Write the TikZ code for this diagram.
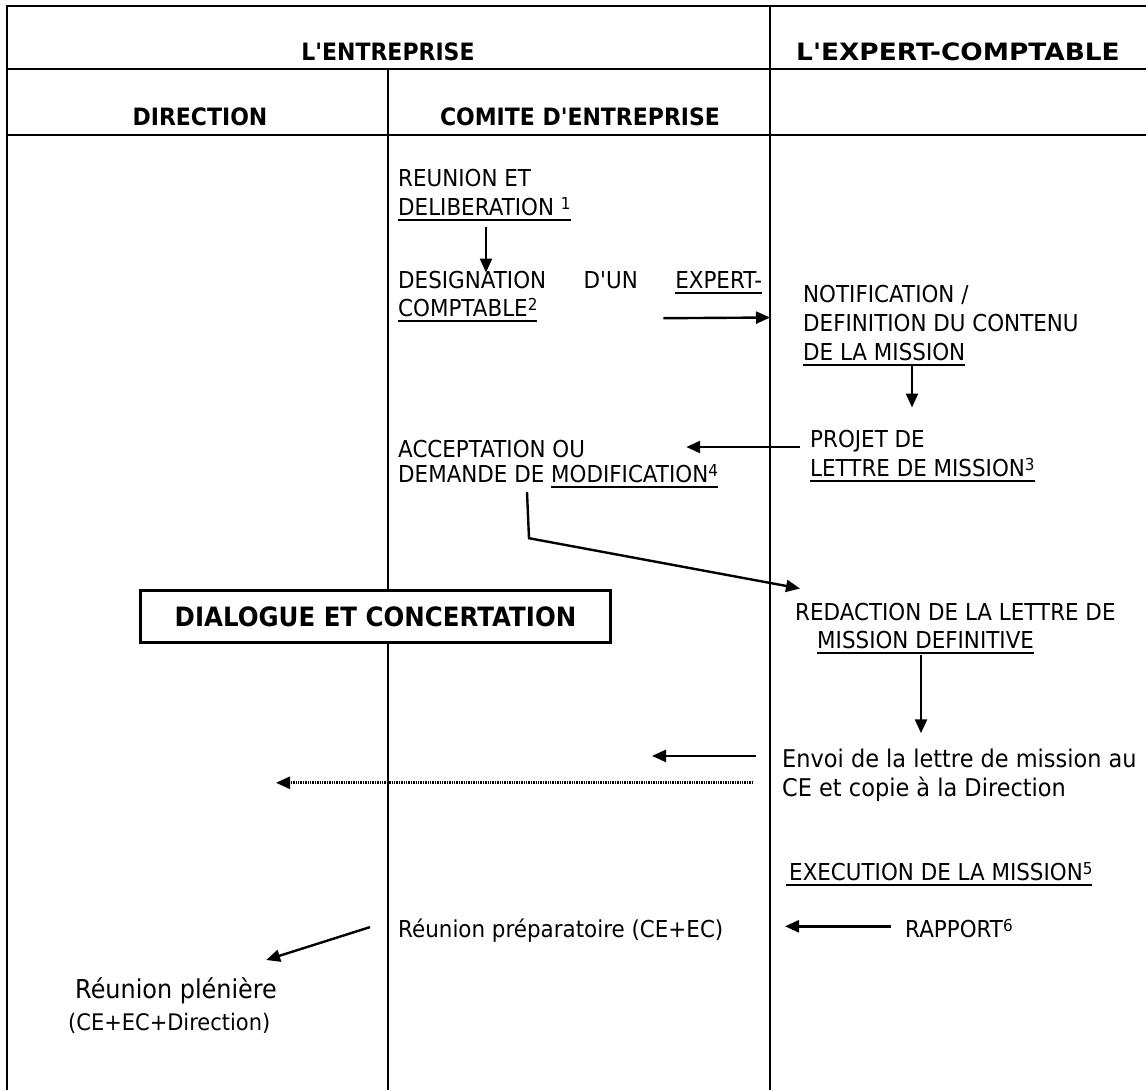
\documentclass[tikz,border=0pt]{standalone}
\usepackage{fontspec}
\newfontfamily\dvs{DejaVu Sans}[FakeStretch=0.92]
\usetikzlibrary{arrows.meta}
\newcommand\ulx[1]{\leavevmode\setbox0\hbox{#1}\rlap{\rule[-6pt]{\wd0}{1.8pt}}\box0}
\newcommand\sups[1]{\raisebox{5.5pt}{\fontsize{16.5}{16.5}\selectfont #1}}
\begin{document}
\begin{tikzpicture}[x=1pt,y=-1pt,
  tx/.style={inner sep=0pt, anchor=base west, font=\dvs\fontsize{23.3}{26}\selectfont},
  txs/.style={inner sep=0pt, anchor=base west, font=\dvs\fontsize{#1}{#1}\selectfont},
  hd/.style={inner sep=0pt, anchor=base, font=\dvs\bfseries\fontsize{23.9}{26}\selectfont},
  arr/.style={line width=2.4pt, -{Triangle[length=14pt,width=12pt]}},
  dotarr/.style={line width=2.6pt, dash pattern=on 1.4pt off 1pt, -{Triangle[length=14pt,width=12pt]}},
  frame/.style={line width=2.5pt},
  rowline/.style={line width=2pt},
  thincol/.style={line width=1.4pt},
  thickcol/.style={line width=2.2pt}]
\useasboundingbox (0,0) rectangle (1146,1090);
% table frame
\draw[frame] (1146,6) -- (7,6) -- (7,1090);
\draw[rowline] (7,69) -- (1146,69);
\draw[rowline] (7,135) -- (1146,135);
\draw[thincol] (388,69) -- (388,1090);
\draw[thickcol] (770,6) -- (770,1090);
% headers
\node[hd] (hent) at (388,60) {L'ENTREPRISE};
\node[hd] (hexp) at (958,60) {\scalebox{1.2}[1]{L'EXPERT-COMPTABLE}};
\node[hd] (hdir) at (200,125) {DIRECTION};
\node[hd] (hce) at (580,125) {COMITE D'ENTREPRISE};
% comite column
\node[tx] (r1a) at (398,186) {REUNION ET};
\node[tx] (r1b) at (398,215) {\ulx{DELIBERATION \sups{1}}};
\node[tx] (d1) at (398,288) {\hbox to 364pt{DESIGNATION\hfill D'UN\hfill\ulx{EXPERT-}}};
\node[tx] (d2) at (398,316) {\ulx{COMPTABLE\sups{2}}};
\node[tx] (a1) at (398,457) {ACCEPTATION OU};
\node[tx] (a2) at (398,482) {DEMANDE DE \ulx{MODIFICATION\sups{4}}};
% expert column
\node[tx] (n1) at (803,302) {NOTIFICATION /};
\node[tx] (n2) at (803,331) {DEFINITION DU CONTENU};
\node[tx] (n3) at (803,360) {\ulx{DE LA MISSION}};
\node[tx] (p1) at (810,447) {PROJET DE};
\node[tx] (p2) at (810,476) {\ulx{LETTRE DE MISSION\sups{3}}};
\node[tx] (rd1) at (795,620) {REDACTION DE LA LETTRE DE};
\node[tx] (rd2) at (817,648) {\ulx{MISSION DEFINITIVE}};
\node[txs=24.4] (e1) at (782,767) {Envoi de la lettre de mission au};
\node[txs=24.4] (e2) at (782,796) {CE et copie à la Direction};
\node[tx] (ex) at (786,880) {\ulx{\hspace{3pt}EXECUTION DE LA MISSION\sups{5}}};
\node[tx] (rap) at (905,937) {RAPPORT\sups{6}};
\node[tx] (rp) at (398,937) {Réunion préparatoire (CE+EC)};
% direction column
\node[txs=26] (pl1) at (75,998) {Réunion plénière};
\node[txs=22.8] (pl2) at (68,1030) {(CE+EC+Direction)};
% dialogue box
\node[draw, line width=3pt, fill=white, minimum width=470pt, minimum height=52pt,
  inner sep=0pt, font=\dvs\bfseries\fontsize{26.6}{28}\selectfont] (dlg) at (375.5,616.5)
  {DIALOGUE ET CONCERTATION};
% connectors
\draw[arr] ([shift={(88,6)}]r1b.south west) -- ([shift={(88,2)}]d1.north west);
\draw[arr] ([shift={(-99,24)}]d1.south east) -- ([shift={(-33,-5)}]n2.west);
\draw[arr] ([shift={(109,0)}]n3.south west) -- ([shift={(102,-22)}]p1.north west);
\draw[arr] ([shift={(-10,0)}]p1.base west) -- ([shift={(101,-10)}]a1.base east);
\draw[arr] ([shift={(129,4)}]a2.south west) -- ++(2,46) -- ([shift={(5,-14)}]rd1.north west);
\draw[arr] ([shift={(104,1)}]rd2.south west) -- ([shift={(139,-15)}]e1.north west);
\draw[arr] ([shift={(-26,-2)}]e1.west) -- ([shift={(-130,-2)}]e1.west);
\draw[dotarr] ([shift={(-29,-6)}]e2.west) -- ([shift={(-506,-6)}]e2.west);
\draw[arr] ([shift={(-14,-2)}]rap.west) -- ([shift={(-120,-2)}]rap.west);
\draw[arr] ([shift={(-28,-3)}]rp.west) -- ([shift={(-11,-17)}]pl1.north east);
\end{tikzpicture}
\end{document}
